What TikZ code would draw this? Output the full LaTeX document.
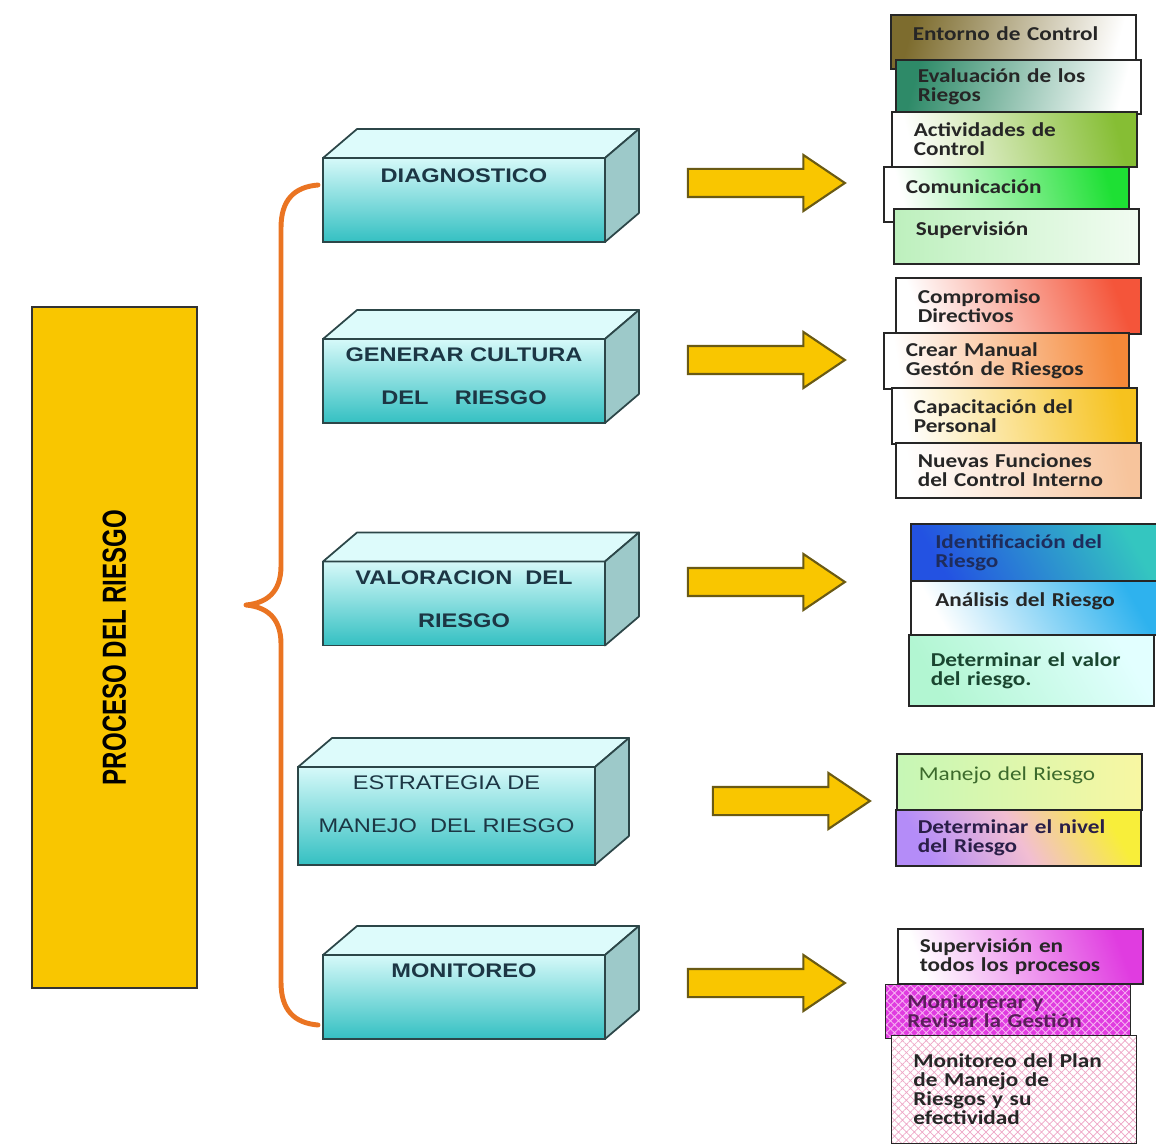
\documentclass[tikz,border=0pt]{standalone}
\usepackage{fontspec}
\setmainfont{Liberation Sans}[FakeStretch=1.2]
\newfontfamily\cajafont{Carlito}[FakeStretch=1.18]
\newfontfamily\angosta{Liberation Sans}[FakeStretch=0.72]
\usepackage{xcolor}
\usepackage{tikz}
\usetikzlibrary{shapes.arrows,patterns.meta}

\definecolor{oro}{HTML}{F9C600}
\definecolor{olivo}{HTML}{6A5A14}
\definecolor{naranja}{HTML}{EA7422}
\definecolor{cianclaro}{HTML}{D6F9F9}
\definecolor{cianoscuro}{HTML}{34C0C2}
\definecolor{cianarriba}{HTML}{DDFBFB}
\definecolor{cianlado}{HTML}{9DC9C9}
\definecolor{borde}{HTML}{2C4648}
\definecolor{pizarra}{HTML}{1C3644}
\definecolor{texto}{HTML}{262626}
\definecolor{entorno}{HTML}{7D6C2E}
\definecolor{evaluacion}{HTML}{2E8A68}
\definecolor{actividades}{HTML}{86BE34}
\definecolor{comunicacion}{HTML}{1EE034}
\definecolor{supervision}{HTML}{BDF0BD}
\definecolor{compromiso}{HTML}{F4553A}
\definecolor{manual}{HTML}{F58838}
\definecolor{capacitacion}{HTML}{F6C21E}
\definecolor{funciones}{HTML}{F7C49C}
\definecolor{azul}{HTML}{2352E2}
\definecolor{turquesa}{HTML}{34C6C0}
\definecolor{azuloscuro}{HTML}{1E2C5C}
\definecolor{celeste}{HTML}{2EB2EE}
\definecolor{menta}{HTML}{B2F6D2}
\definecolor{aguaclara}{HTML}{E2FFFF}
\definecolor{verdeoscuro}{HTML}{1A4630}
\definecolor{verdeclaro}{HTML}{C6F7B6}
\definecolor{amarilloclaro}{HTML}{F8F7A2}
\definecolor{verdetexto}{HTML}{3C6A2C}
\definecolor{lila}{HTML}{B48CF8}
\definecolor{rosado}{HTML}{F2BED2}
\definecolor{amarillo}{HTML}{F8EE3A}
\definecolor{violeta}{HTML}{2A1E48}
\definecolor{fucsia}{HTML}{E03CE0}
\definecolor{rosa}{HTML}{F7B2F2}
\definecolor{morado}{HTML}{5A1E5A}
\definecolor{rosatrama}{HTML}{EEA6C6}

\begin{document}
\begin{tikzpicture}[x=0.02cm,y=-0.02cm,
 frente/.style={draw=borde,line width=1pt,outer sep=0pt,minimum width=5.64cm,minimum height=1.68cm,top color=cianclaro,bottom color=cianoscuro},
 arriba/.style={draw=borde,line width=1pt,fill=cianarriba,line join=round},
 lado/.style={draw=borde,line width=1pt,fill=cianlado,line join=round},
 titulo/.style={align=center,text=pizarra,font=\fontsize{11.2}{24.5}\selectfont\bfseries},
 etapa/.style={draw=black!85,line width=0.9pt,anchor=north west,align=left,text width=4.02cm,inner xsep=0.44cm,minimum width=4.9cm,minimum height=1.1cm,text=texto,font=\cajafont\fontsize{11.2}{10.8}\selectfont\bfseries,execute at begin node={\lineskiplimit=-5pt}},
 una/.style={text depth=0.31cm},
 flecha/.style={single arrow,draw=olivo,line width=1.2pt,fill=oro,inner sep=0.26cm,minimum height=3.14cm,single arrow head extend=0.28cm,single arrow tip angle=68},
 llave/.style={draw=naranja,line width=2.8pt,line cap=round,line join=round}]
\useasboundingbox (0,0) rectangle (1156,1148);

% bloque principal y llave
\node[draw=black!80,line width=1pt,fill=oro,rotate=90,minimum width=13.62cm,minimum height=3.3cm,font=\angosta\fontsize{19}{20}\selectfont\bfseries] (proceso) at (114.5,647.5) {PROCESO DEL RIESGO};
\draw[llave] (318,185) .. controls (294,187) and (281,200) .. (281,228) -- (281,566) .. controls (281,593) and (266,603) .. (246,605) .. controls (266,607) and (281,617) .. (281,644) -- (281,982) .. controls (281,1010) and (294,1023) .. (318,1025);

% etapas en 3D
\node[frente] (diag) at (464,200) {};
\node[frente] (cultura) at (464,381) {};
\node[frente] (valor) at (464,603.5) {};
\node[frente,minimum width=5.94cm,minimum height=1.96cm] (estrategia) at (446.5,816) {};
\node[frente] (monitoreo) at (464,997) {};
\foreach \c in {diag,cultura,valor,estrategia,monitoreo}{
  \draw[arriba] (\c.north west) -- ++(34,-29) -- ([shift={(34,-29)}]\c.north east) -- (\c.north east) -- cycle;
  \draw[lado] (\c.north east) -- ++(34,-29) -- ([shift={(34,-29)}]\c.south east) -- (\c.south east) -- cycle;
}
\node[titulo] (tdiag) at ([yshift=-0.36cm]diag.north) {DIAGNOSTICO};
\node[titulo] (tcultura) at ([yshift=-0.75cm]cultura.north) {GENERAR CULTURA\\DEL\ \ \ \ RIESGO};
\node[titulo] (tvalor) at ([yshift=-0.75cm]valor.north) {VALORACION\ \ DEL\\RIESGO};
\node[titulo,font=\fontsize{11.2}{24.5}\selectfont] (testrategia) at ([yshift=-0.75cm]estrategia.north) {ESTRATEGIA DE\\MANEJO\ \ DEL RIESGO};
\node[titulo] (tmonitoreo) at ([yshift=-0.32cm]monitoreo.north) {MONITOREO};

% flechas
\node[flecha] (f1) at (756,183) {};
\node[flecha] (f2) at (756,360) {};
\node[flecha] (f3) at (756,582) {};
\node[flecha] (f4) at (781,801) {};
\node[flecha] (f5) at (756,983) {};

% componentes
\node[etapa,minimum height=1.08cm,una,top color=entorno,bottom color=white,shading angle=75] (entorno) at (890,14) {Entorno de Control};
\node[etapa,minimum height=1.08cm,top color=evaluacion,bottom color=white,shading angle=75] (evaluacion) at (895,59) {Evaluación de los\\Riegos};
\node[etapa,top color=actividades,bottom color=white,shading angle=-75] (actividades) at (891,111) {Actividades de\\Control};
\node[etapa,una,top color=comunicacion,bottom color=white,shading angle=-75] (comunicacion) at (883,166) {Comunicación};
\node[etapa,una,left color=supervision,right color=white!80!supervision] (supervision) at (893,208) {Supervisión};

\node[etapa,minimum height=1.12cm,top color=compromiso,bottom color=white,shading angle=-70] (compromiso) at (895,277) {Compromiso\\Directivos};
\node[etapa,minimum height=1.12cm,top color=manual,bottom color=white,shading angle=-80] (manual) at (883,332) {Crear Manual\\Gestón de Riesgos};
\node[etapa,minimum height=1.12cm,top color=capacitacion,bottom color=white,shading angle=-80] (capacitacion) at (891,387) {Capacitación del\\Personal};
\node[etapa,top color=funciones,bottom color=white,shading angle=-80] (funciones) at (895,442) {Nuevas Funciones\\del Control Interno};

\node[etapa,minimum width=5cm,minimum height=1.16cm,top color=turquesa,bottom color=azul,shading angle=-60,text=azuloscuro] (identificacion) at (910,523) {Identificación del\\Riesgo};
\node[etapa,minimum width=5cm,minimum height=1.08cm,una,top color=celeste,bottom color=white,shading angle=-60] (analisis) at (910,580) {Análisis del Riesgo};
\node[etapa,minimum height=1.42cm,top color=aguaclara,bottom color=menta,shading angle=-60,text=verdeoscuro] (valorriesgo) at (908,634) {Determinar el valor\\del riesgo.};

\node[etapa,minimum height=1.12cm,una,left color=verdeclaro,right color=amarilloclaro,text=verdetexto,font=\cajafont\fontsize{11.2}{10.8}\selectfont] (manejo) at (896,753) {Manejo del Riesgo};
\node[etapa,minimum height=1.12cm,top color=amarillo,bottom color=lila,middle color=rosado,shading angle=-60,text=violeta] (nivel) at (895,809) {Determinar el nivel\\del Riesgo};

\node[etapa,top color=fucsia,bottom color=white,shading angle=-70] (supervisionen) at (897,928) {Supervisión en\\todos los procesos};
\node[etapa,minimum height=1.08cm,preaction={fill=fucsia},pattern={Hatch[angle=45,distance=3.2pt,line width=0.5pt]},pattern color=rosa,text=morado] (revisar) at (885,984) {Monitorerar y\\Revisar la Gestión};
\node[etapa,minimum height=2.16cm,preaction={fill=white},pattern={Hatch[angle=45,distance=3.2pt,line width=0.4pt]},pattern color=rosatrama] (plan) at (891,1035) {Monitoreo del Plan\\de Manejo de\\Riesgos y su\\efectividad};
\end{tikzpicture}
\end{document}
